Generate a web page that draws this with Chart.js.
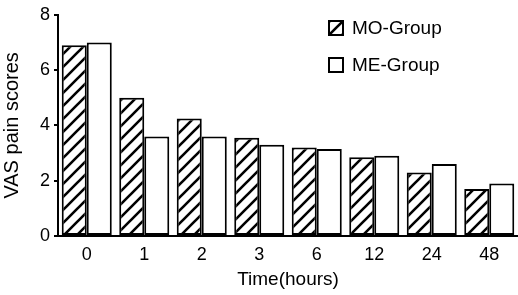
<!DOCTYPE html>
<html>
<head>
<meta charset="utf-8">
<script src="https://cdn.jsdelivr.net/npm/chart.js@4"></script>
<style>
  html, body { margin: 0; padding: 0; background: #fff; }
  #wrap { width: 518px; height: 295px; position: relative; }
</style>
</head>
<body>
<div id="wrap"><canvas id="vasChart"></canvas></div>
<script>
const timeLabels = ['0', '1', '2', '3', '6', '12', '24', '48'];
const moGroup = [6.9, 5.0, 4.25, 3.55, 3.2, 2.85, 2.3, 1.7];
const meGroup = [7.0, 3.6, 3.6, 3.3, 3.15, 2.9, 2.6, 1.9];
const yTicks = [0, 2, 4, 6, 8];

// diagonal hatch for the MO bars
function hatch() {
  const c = document.createElement('canvas');
  c.width = 13; c.height = 13;
  const g = c.getContext('2d');
  g.fillStyle = '#fff';
  g.fillRect(0, 0, 13, 13);
  g.strokeStyle = '#000';
  g.lineWidth = 2.6;
  g.beginPath();
  g.moveTo(-3, 16); g.lineTo(16, -3);
  g.moveTo(-3, 3); g.lineTo(3, -3);
  g.moveTo(10, 16); g.lineTo(16, 10);
  g.stroke();
  return g.createPattern(c, 'repeat');
}

const hatchFill = hatch();
const FONT = '"Liberation Sans", Arial, sans-serif';

const legendBoxes = {
  id: 'legendBoxes',
  afterDraw(chart) {
    const ctx = chart.ctx;
    const rows = [28, 65];
    ctx.save();
    chart.data.datasets.forEach((ds, i) => {
      const y = rows[i];
      ctx.fillStyle = ds.backgroundColor;
      ctx.fillRect(329, y - 7, 14, 14);
      ctx.lineWidth = 2;
      ctx.strokeStyle = '#000';
      ctx.strokeRect(329, y - 7, 14, 14);
      ctx.fillStyle = '#000';
      ctx.font = '19px ' + FONT;
      ctx.textBaseline = 'middle';
      ctx.textAlign = 'left';
      ctx.fillText(ds.label, 352, y + 1);
    });
    ctx.restore();
  }
};

new Chart(document.getElementById('vasChart'), {
  type: 'bar',
  data: {
    labels: timeLabels,
    datasets: [
      {
        label: 'MO-Group',
        data: moGroup,
        backgroundColor: hatchFill,
        borderColor: '#000',
        borderWidth: 2,
        borderSkipped: false
      },
      {
        label: 'ME-Group',
        data: meGroup,
        backgroundColor: '#fff',
        borderColor: '#000',
        borderWidth: 2,
        borderSkipped: false
      }
    ]
  },
  options: {
    responsive: true,
    maintainAspectRatio: false,
    animation: false,
    layout: { padding: { top: 12, left: 0, right: 0, bottom: 0 } },
    datasets: { bar: { categoryPercentage: 0.87, barPercentage: 1.0 } },
    plugins: {
      legend: { display: false },
      tooltip: { enabled: false }
    },
    scales: {
      x: {
        grid: { display: false },
        border: { display: true, color: '#000', width: 2 },
        ticks: { color: '#000', font: { family: FONT, size: 18 }, padding: 0 },
        title: {
          display: true,
          text: 'Time(hours)',
          color: '#000',
          font: { family: FONT, size: 19 },
          padding: { top: 0, bottom: 4 }
        },
        afterFit(s) { s.height = 59; }
      },
      y: {
        min: 0,
        max: 8,
        afterBuildTicks(s) { s.ticks = yTicks.map(v => ({ value: v })); },
        grid: {
          drawOnChartArea: false,
          drawTicks: true,
          tickLength: 4,
          color: '#000',
          lineWidth: 2
        },
        border: { display: true, color: '#000', width: 2 },
        ticks: { color: '#000', font: { family: FONT, size: 18 }, padding: 4 },
        title: {
          display: true,
          text: 'VAS pain scores',
          color: '#000',
          font: { family: FONT, size: 20 },
          padding: { top: 0, bottom: 3 }
        },
        afterFit(s) { s.width = 58; }
      }
    }
  },
  plugins: [legendBoxes]
});
</script>
</body>
</html>
